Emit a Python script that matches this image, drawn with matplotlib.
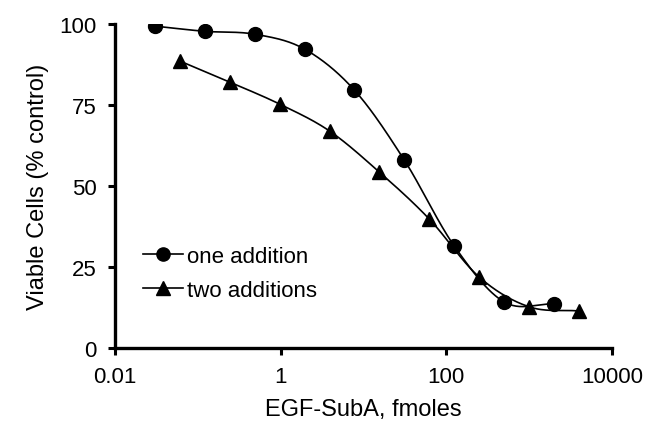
import numpy as np
import matplotlib
matplotlib.use('Agg')
import matplotlib.pyplot as plt

plt.rcParams['font.family'] = ['Liberation Sans', 'DejaVu Sans']

# fmoles, 4-fold dilutions
one_x = [0.0305, 0.122, 0.488, 1.95, 7.81, 31.25, 125, 500, 2000]
one_y = [99.4, 97.8, 96.9, 92.3, 79.6, 58.0, 31.5, 14.2, 13.6]
two_x = [0.061, 0.244, 0.977, 3.9, 15.6, 62.5, 250, 1000, 4000]
two_y = [88.6, 82.1, 75.3, 67.0, 54.3, 39.8, 21.9, 12.7, 11.4]


def smooth(xs, ys, n=30):
    # catmull-rom through the points, in log-x space (like excel smoothed lines)
    lx = np.log10(xs)
    y = np.asarray(ys, float)
    px = np.concatenate([[2*lx[0]-lx[1]], lx, [2*lx[-1]-lx[-2]]])
    py = np.concatenate([[2*y[0]-y[1]], y, [2*y[-1]-y[-2]]])
    outx, outy = [], []
    t = np.linspace(0, 1, n)
    for i in range(1, len(px)-2):
        for p, out in ((px, outx), (py, outy)):
            p0, p1, p2, p3 = p[i-1], p[i], p[i+1], p[i+2]
            out.extend(0.5*((2*p1) + (-p0+p2)*t + (2*p0-5*p1+4*p2-p3)*t**2
                            + (-p0+3*p1-3*p2+p3)*t**3))
    return 10**np.array(outx), np.array(outy)


fig = plt.figure(figsize=(6.46, 4.27), dpi=100)
ax = fig.add_axes([0.178, 0.183, 0.769, 0.758])

for xs, ys, m, lab in ((one_x, one_y, 'o', 'one addition'),
                       (two_x, two_y, '^', 'two additions')):
    sx, sy = smooth(xs, ys)
    ax.plot(sx, sy, color='black', lw=1.2)
    ax.plot(xs, ys, ls='none', marker=m, ms=10 if m == 'o' else 10.5,
            color='black')
    ax.plot([], [], color='black', lw=1.2, marker=m, ms=9.5, label=lab)

ax.set_xscale('log')
ax.set_xlim(0.01, 10000)
ax.set_ylim(0, 100)
ax.set_xticks([0.01, 1, 100, 10000])
ax.set_xticklabels(['0.01', '1', '100', '10000'])
ax.minorticks_off()
ax.set_yticks([0, 25, 50, 75, 100])

for s in ('top', 'right'):
    ax.spines[s].set_visible(False)
for s in ('left', 'bottom'):
    ax.spines[s].set_linewidth(2.4)
ax.tick_params(width=2.2, length=5, labelsize=16, pad=8)

ax.set_xlabel('EGF-SubA, fmoles', fontsize=17, labelpad=8)
ax.set_ylabel('Viable Cells (% control)', fontsize=17, labelpad=8)

ax.legend(loc='center left', bbox_to_anchor=(0.056, 0.23), frameon=False,
          fontsize=16, handlelength=1.8, handletextpad=0.2, labelspacing=0.6,
          borderpad=0, borderaxespad=0)

fig.savefig('out.png', dpi=100)
